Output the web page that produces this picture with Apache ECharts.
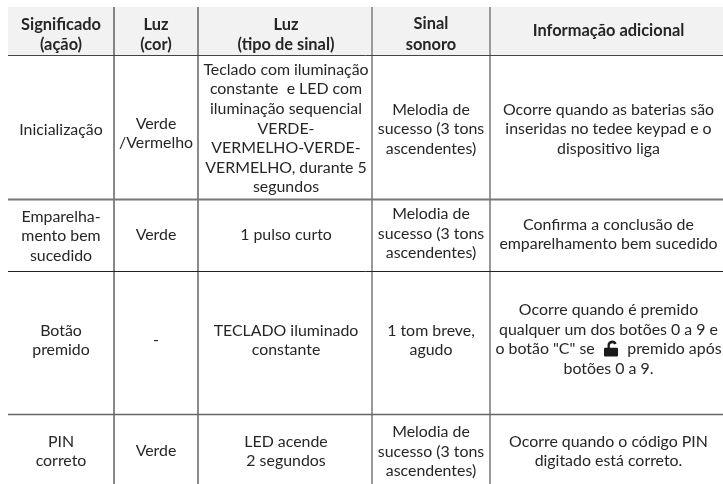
<!DOCTYPE html>
<html>
<head>
<meta charset="utf-8">
<title>Tabela de sinais</title>
<style>
html, body { margin: 0; padding: 0; background: #fff; }
#table_chart { width: 723px; height: 484px; }
</style>
<script src="https://cdn.jsdelivr.net/npm/echarts@6/dist/echarts.min.js"></script>
</head>
<body>
<div id="table_chart"></div>
<script>
var headers = [
	'Significado\n(ação)',
	'Luz\n(cor)',
	'Luz\n(tipo de sinal)',
	'Sinal\nsonoro',
	'Informação adicional'
];
var significado = [
	'Inicialização',
	'Emparelha-\nmento bem\nsucedido',
	'Botão\npremido',
	'PIN\ncorreto'
];
var luzCor = [
	'Verde\n/Vermelho',
	'Verde',
	'-',
	'Verde'
];
var luzTipo = [
	'Teclado com iluminação\nconstante  e LED com\niluminação sequencial\nVERDE-\nVERMELHO-VERDE-\nVERMELHO, durante 5\nsegundos',
	'1 pulso curto',
	'TECLADO iluminado\nconstante',
	'LED acende\n2 segundos'
];
var sinalSonoro = [
	'Melodia de\nsucesso (3 tons\nascendentes)',
	'Melodia de\nsucesso (3 tons\nascendentes)',
	'1 tom breve,\nagudo',
	'Melodia de\nsucesso (3 tons\nascendentes)'
];
var informacao = [
	'Ocorre quando as baterias são\ninseridas no tedee keypad e o\ndispositivo liga',
	'Confirma a conclusão de\nemparelhamento bem sucedido',
	'Ocorre quando é premido\nqualquer um dos botões 0 a 9 e\no botão "C" se        premido após\nbotões 0 a 9.',
	'Ocorre quando o código PIN\ndigitado está correto.'
];

// table geometry (px)
var colEdges = [8, 114, 198, 372, 490, 723];
var rowEdges = [7, 55.5, 199.5, 271.5, 414.5, 484];
var colLineColor = ['#555', '#8a8a8a', '#999', '#999'];
var colLineWidth = [1.4, 2, 2, 2];
var rowLineColor = ['#444', '#777', '#222', '#666'];
var rowLineWidth = [1, 2, 1, 1.4];
// text is not quite centred in the cells of the picture: shift per [row][col]
var cellShiftY = [
	[3.5, 3.5, 3.5, 3, -1],
	[2, 6, 1, 1.5, 1.5],
	[0.5, -1, -1, -2, -1],
	[-2.5, -3, -2.5, -2.5, -3.5],
	[2, 2, 2, 2.5, 2]
];
var colShiftX = [0, 0, 1, 0, 2];
var lockPoint = [[611, 348.5]];

var columns = [significado, luzCor, luzTipo, sinalSonoro, informacao];

var cells = [];
for (var c = 0; c < headers.length; c++) {
	cells.push([c, 0, headers[c], 1]);
	for (var r = 0; r < columns[c].length; r++) {
		cells.push([c, r + 1, columns[c][r], 0]);
	}
}

var lines = [];
for (var i = 1; i < colEdges.length - 1; i++) {
	lines.push([colEdges[i], rowEdges[0], colEdges[i], 484, colLineColor[i - 1], colLineWidth[i - 1]]);
}
for (var j = 1; j < rowEdges.length - 1; j++) {
	lines.push([colEdges[0], rowEdges[j], 723, rowEdges[j], rowLineColor[j - 1], rowLineWidth[j - 1]]);
}

function renderHeaderBand(params, api) {
	var a = api.coord([api.value(0), api.value(1)]);
	var b = api.coord([api.value(2), api.value(3)]);
	return {
		type : 'rect',
		shape : { x : a[0], y : a[1], width : b[0] - a[0], height : b[1] - a[1] },
		style : { fill : '#f2f2f2' }
	};
}

function renderCell(params, api) {
	var c = api.value(0);
	var r = api.value(1);
	var p = api.coord([(colEdges[c] + colEdges[c + 1]) / 2 + colShiftX[c],
			(rowEdges[r] + rowEdges[r + 1]) / 2 + cellShiftY[r][c]]);
	return {
		type : 'text',
		style : {
			x : p[0],
			y : p[1],
			text : cells[params.dataIndex][2],
			align : 'center',
			verticalAlign : 'middle',
			fill : '#262626',
			font : api.value(3) ? 'bold 16.4px Lato, sans-serif' : '15.9px Lato, sans-serif',
			lineHeight : api.value(3) ? 20.6 : 19.6
		}
	};
}

function renderLine(params, api) {
	var a = api.coord([api.value(0), api.value(1)]);
	var b = api.coord([api.value(2), api.value(3)]);
	var d = lines[params.dataIndex];
	return {
		type : 'line',
		shape : { x1 : a[0], y1 : a[1], x2 : b[0], y2 : b[1] },
		style : { stroke : d[4], lineWidth : d[5] }
	};
}

var Chart = echarts.init(document.getElementById('table_chart'));
Chart.setOption({
	animation : false,
	grid : { left : 0, right : 0, top : 0, bottom : 0 },
	xAxis : { type : 'value', min : 0, max : 723, show : false },
	yAxis : { type : 'value', min : 0, max : 484, inverse : true, show : false },
	series : [ {
		type : 'custom',
		renderItem : renderHeaderBand,
		encode : { x : [0, 2], y : [1, 3] },
		data : [[colEdges[0], rowEdges[0], 723, rowEdges[1]]]
	}, {
		type : 'custom',
		renderItem : renderLine,
		encode : { x : [0, 2], y : [1, 3] },
		data : lines
	}, {
		type : 'custom',
		renderItem : renderCell,
		data : cells
	}, {
		type : 'scatter',
		symbol : 'path://M3 7V4.5a4 4 0 0 1 7.8-1.4l-2 .8A2.1 2.1 0 0 0 5 4.5V7H11a1 1 0 0 1 1 1v6a1 1 0 0 1-1 1H1a1 1 0 0 1-1-1V8a1 1 0 0 1 1-1z',
		symbolSize : [14, 16],
		itemStyle : { color : '#1a1a1a', opacity : 1 },
		data : lockPoint
	} ]
});
</script>
</body>
</html>
